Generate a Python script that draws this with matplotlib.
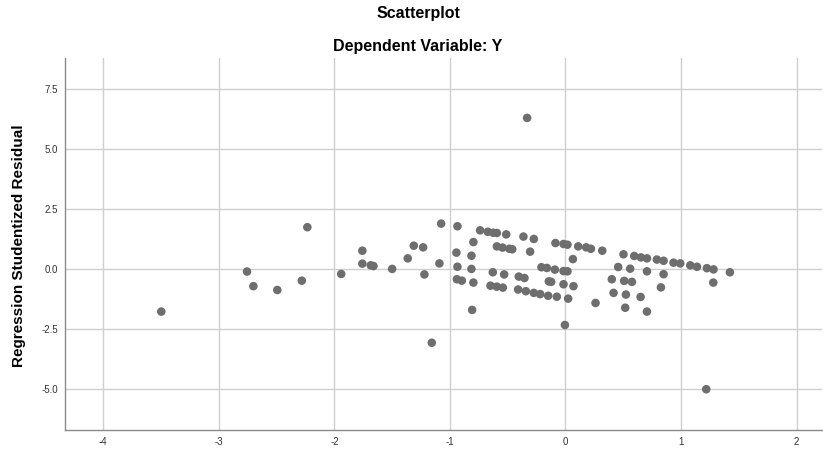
import matplotlib
matplotlib.use('Agg')
import matplotlib.pyplot as plt
import numpy as np

plt.rcParams['font.family'] = ['Liberation Sans', 'DejaVu Sans']

# Valeurs (prédite standardisée, résidu studentisé)
pred_x = [-3.498, -2.756, -2.701, -2.494, -2.282, -2.234, -1.941, -1.758, -1.758,
          -1.685, -1.662, -1.500, -1.365, -1.313, -1.232, -1.221, -1.157, -1.091,
          -1.076, -0.935, -0.944, -0.935, -0.940, -0.897, -0.814, -0.814, -0.797,
          -0.797, -0.808, -0.739, -0.672, -0.626, -0.594, -0.513, -0.594, -0.545,
          -0.485, -0.461, -0.629, -0.531, -0.649, -0.594, -0.542, -0.410, -0.343,
          -0.274, -0.219, -0.150, -0.075, 0.023, -0.005, -0.404, -0.355, -0.364,
          -0.274, -0.306, -0.208, -0.161, -0.092, -0.017, 0.017, -0.144, -0.124,
          -0.017, 0.069, -0.087, -0.017, 0.017, 0.110, 0.064, 0.179, 0.220,
          0.318, 0.260, 0.502, 0.595, 0.653, 0.705, 0.791, 0.849, 0.935,
          0.993, 1.080, 1.138, 1.224, 1.281, 1.423, 1.279, 0.456, 0.560,
          0.705, 0.849, 0.401, 0.508, 0.575, 0.826, 0.416, 0.523, 0.650,
          0.517, 0.705, -0.332, 1.218]
resid_y = [-1.79, -0.12, -0.73, -0.89, -0.50, 1.73, -0.22, 0.75, 0.21,
           0.14, 0.11, -0.01, 0.43, 0.96, 0.89, -0.24, -3.09, 0.22,
           1.88, 1.77, 0.67, 0.08, -0.44, -0.50, 0.54, -0.01, 1.11,
           -0.58, -1.72, 1.60, 1.54, 1.50, 1.49, 1.43, 0.93, 0.88,
           0.83, 0.81, -0.15, -0.24, -0.71, -0.75, -0.79, -0.87, -0.94,
           -1.01, -1.06, -1.13, -1.17, -1.25, -2.35, -0.33, -0.39, 1.34,
           1.24, 0.71, 0.06, 0.03, -0.04, -0.10, -0.11, -0.53, -0.55,
           -0.65, -0.73, 1.07, 1.03, 1.00, 0.93, 0.40, 0.89, 0.83,
           0.75, -1.43, 0.60, 0.53, 0.47, 0.43, 0.38, 0.33, 0.25,
           0.22, 0.14, 0.08, 0.02, -0.03, -0.15, -0.58, 0.07, 0.00,
           -0.11, -0.23, -0.44, -0.51, -0.55, -0.78, -1.01, -1.08, -1.18,
           -1.63, -1.79, 6.29, -5.03]

x_ticks = [-4, -3, -2, -1, 0, 1, 2]
y_ticks = [-5.0, -2.5, 0.0, 2.5, 5.0, 7.5]

fig = plt.figure(figsize=(8.23, 4.51), dpi=100)
ax = fig.add_axes([0.0786, 0.0466, 0.9202, 0.8248])

ax.scatter(pred_x, resid_y, s=38, color='#6e6e6e', edgecolors='none', zorder=3)

ax.set_xlim(-4.334, 2.22)
ax.set_ylim(-6.73, 8.79)
ax.set_xticks(x_ticks)
ax.set_xticklabels([str(t) for t in x_ticks])
ax.set_yticks(y_ticks)
ax.set_yticklabels([f'{t:.1f}' for t in y_ticks])
ax.tick_params(length=0, labelsize=7, colors='#333333', pad=5)
ax.grid(True, color='#cfcfcf', linewidth=1.0, zorder=0)
ax.set_axisbelow(True)

for s in ['top', 'right']:
    ax.spines[s].set_visible(False)
for s in ['left', 'bottom']:
    ax.spines[s].set_color('#8a8a8a')
    ax.spines[s].set_linewidth(1.0)

fig.text(0.0225, 0.455, 'Regression Studentized Residual', rotation=90,
         ha='center', va='center', fontsize=11, fontweight='bold')

fig.text(0.508, 0.969, 'Scatterplot', ha='center', va='center',
         fontsize=11.5, fontweight='bold')
fig.text(0.508, 0.898, 'Dependent Variable: Y', ha='center', va='center',
         fontsize=11.5, fontweight='bold')

fig.savefig('out.png', dpi=100)
